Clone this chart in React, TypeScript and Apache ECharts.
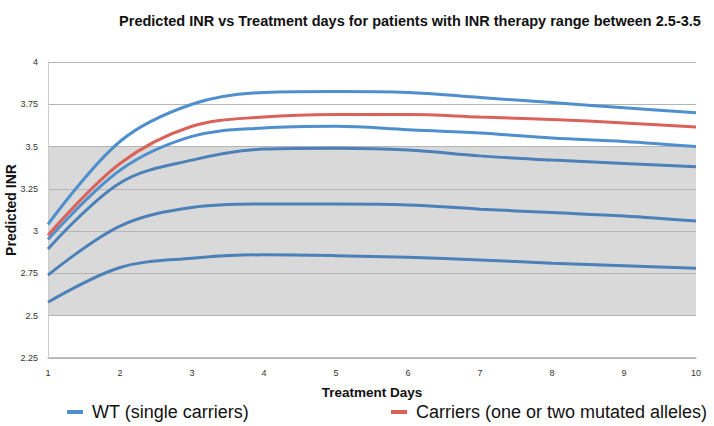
import React, { useEffect, useRef } from "react";
import * as echarts from "echarts";

const days = [1, 2, 3, 4, 5, 6, 7, 8, 9, 10];
const yTicks = [2.25, 2.5, 2.75, 3, 3.25, 3.5, 3.75, 4];
const therapyRange = [2.5, 3.5];

const wtName = "WT (single carriers)";
const carrierName = "Carriers (one or two mutated alleles)";

const wt1 = [3.04, 3.53, 3.75, 3.82, 3.825, 3.82, 3.79, 3.76, 3.73, 3.7];
const wt2 = [2.95, 3.36, 3.56, 3.61, 3.62, 3.6, 3.58, 3.55, 3.53, 3.5];
const wt3 = [2.895, 3.285, 3.42, 3.485, 3.49, 3.48, 3.445, 3.42, 3.4, 3.38];
const wt4 = [2.74, 3.03, 3.14, 3.16, 3.16, 3.155, 3.13, 3.11, 3.09, 3.06];
const wt5 = [2.58, 2.785, 2.84, 2.86, 2.855, 2.845, 2.83, 2.81, 2.795, 2.78];
const carriers = [2.975, 3.4, 3.62, 3.675, 3.69, 3.69, 3.675, 3.66, 3.64, 3.615];

const wtSeries = [wt1, wt2, wt3, wt4, wt5];
const wtColors = ["#4f8fcd", "#4f8fcd", "#4b80b8", "#4b80b8", "#4b80b8"];

const FONT = "Liberation Sans, Arial, sans-serif";

export default function App() {
  const ref = useRef<HTMLDivElement>(null);
  useEffect(() => {
    document.body.style.margin = "0";
    const chart = echarts.init(ref.current!, null, { renderer: "svg" });
    const mk = (vals: number[]) => days.map((d, i) => [d, vals[i]]);
    const series: any[] = [
      {
        type: "line",
        name: "band",
        data: [],
        z: 1,
        silent: true,
        markArea: {
          silent: true,
          itemStyle: { color: "#d9d9d9" },
          data: [[{ yAxis: therapyRange[0] }, { yAxis: therapyRange[1] }]],
        },
      },
    ];
    wtSeries.forEach((vals, i) => {
      series.push({
        type: "line",
        name: wtName,
        data: mk(vals),
        smooth: 0.35,
        showSymbol: false,
        symbol: "none",
        z: 5,
        color: wtColors[i],
        lineStyle: { width: 3, color: wtColors[i] },
      });
    });
    series.push({
      type: "line",
      name: carrierName,
      data: mk(carriers),
      smooth: 0.35,
      showSymbol: false,
      symbol: "none",
      z: 5,
      color: "#d9625b",
      lineStyle: { width: 3, color: "#d9625b" },
    });

    const legendText = {
      fontFamily: FONT,
      fontSize: 18,
      color: "#111",
      padding: [0, 0, 0, 4],
    };

    chart.setOption({
      animation: false,
      backgroundColor: "#ffffff",
      title: {
        text: "Predicted INR vs Treatment days for patients with INR therapy range between 2.5-3.5",
        left: 405,
        textAlign: "center",
        top: 8,
        textStyle: {
          fontFamily: FONT,
          fontSize: 14.5,
          fontWeight: "bold",
          color: "#111",
        },
      },
      legend: [
        {
          data: [wtName],
          left: 62,
          top: 398,
          icon: "rect",
          itemWidth: 16,
          itemHeight: 4,
          textStyle: legendText,
        },
        {
          data: [carrierName],
          left: 386,
          top: 398,
          icon: "rect",
          itemWidth: 16,
          itemHeight: 4,
          textStyle: legendText,
        },
      ],
      grid: {
        left: 48,
        right: 18,
        top: 62,
        bottom: 68,
        containLabel: false,
        outerBoundsMode: "none",
      },
      xAxis: {
        type: "value",
        min: days[0],
        max: days[days.length - 1],
        interval: 1,
        name: "Treatment Days",
        nameLocation: "middle",
        nameGap: 27,
        nameMoveOverlap: false,
        nameTextStyle: {
          fontFamily: FONT,
          fontSize: 13.5,
          fontWeight: "bold",
          color: "#111",
        },
        axisLine: { show: true, lineStyle: { color: "#aaaaaa", width: 1.5 } },
        axisTick: { show: false },
        splitLine: { show: false },
        axisLabel: {
          fontFamily: FONT,
          fontSize: 9,
          color: "#333",
          margin: 10,
        },
      },
      yAxis: {
        type: "value",
        min: yTicks[0],
        max: yTicks[yTicks.length - 1],
        interval: 0.25,
        z: 3,
        name: "Predicted INR",
        nameLocation: "middle",
        nameGap: 30,
        nameMoveOverlap: false,
        nameTextStyle: {
          fontFamily: FONT,
          fontSize: 14,
          fontWeight: "bold",
          color: "#111",
        },
        axisLine: { show: true, lineStyle: { color: "#cccccc" } },
        axisTick: { show: false },
        splitLine: { show: true, lineStyle: { color: "#b5b5b5", width: 1 } },
        axisLabel: {
          fontFamily: FONT,
          fontSize: 9,
          color: "#333",
          margin: 10,
        },
      },
      series,
    });
    return () => chart.dispose();
  }, []);
  return (
    <div
      ref={ref}
      style={{ width: 714, height: 426, position: "absolute", left: 0, top: 0 }}
    />
  );
}
